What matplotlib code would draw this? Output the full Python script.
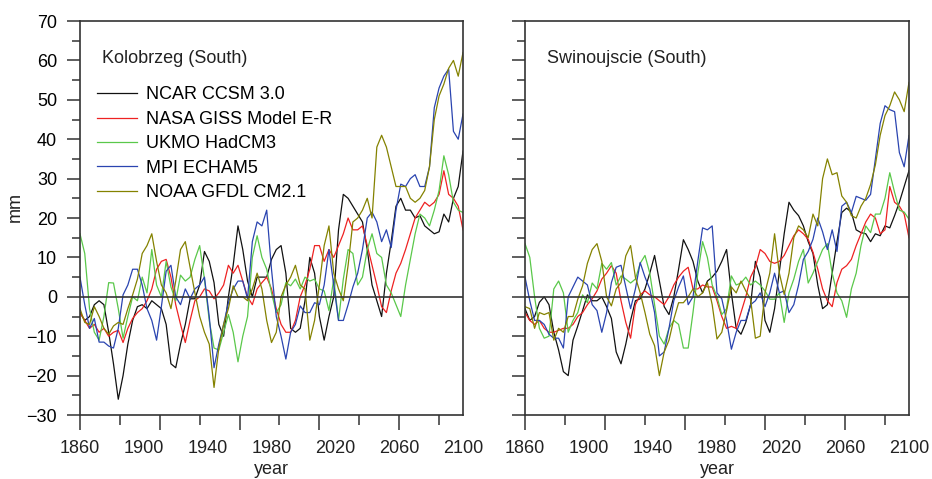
import matplotlib
matplotlib.use('Agg')
import matplotlib.pyplot as plt
from matplotlib.lines import Line2D
import numpy as np

plt.rcParams['font.family'] = ['Liberation Sans', 'DejaVu Sans']
plt.rcParams['font.size'] = 13

# annual-ish sampling, every 3 years
years = np.arange(1860, 2101, 3)

models = ['NCAR CCSM 3.0', 'NASA GISS Model E-R', 'UKMO HadCM3', 'MPI ECHAM5', 'NOAA GFDL CM2.1']
colors = ['#111111', '#ee2222', '#5ac84a', '#2a44b0', '#848200']

# Kolobrzeg (South)
kol_ncar = [-4, -6, -5, -2, -1, -2, -9, -17, -26, -20,
            -12, -6, -2.5, -2, -3, -1, -2, -3, -7, -17,
            -18, -12, -7, -0.5, -0.5, 3, 11.5, 9, 3.6, -7,
            -10, 0, 8, 18, 12, 4, 0, 5, 5, 5,
            9.5, 12, 13, 6, -8, -9, -8, -1, 10, 6,
            -5, -11, -5, 0, 17, 26, 25, 23, 21, 19,
            12, 3, -1, -5, 6, 14, 23, 25, 22, 22,
            20, 20.6, 18, 17, 16, 16.5, 21, 19, 25, 28,
            37]
kol_nasa = [-4, -6, -8, -7, -9, -8, -10, -9, -8.5, -11.6,
            -8, -5.5, -4, -3, -1, 2, 7, 9, 9.5, 5,
            -2, -7, -11.6, -6, -1, 0, 2, 1.5, -0.5, 1,
            3, 8, 6, 8, 4, 0, -2, 2, 3.6, 5,
            2, -3, -7, -9, -9, -6, 0, 3, 7, 13,
            13, 9, 12, 10, 13, 16, 20, 17, 17, 18,
            13, 8, 3, -2.5, -4, 1.5, 6, 8.5, 12, 16,
            20, 22, 24, 23, 24, 26, 32, 26, 25, 23,
            17]
kol_ukmo = [16, 11, -3, -9, -11, -5, 3.6, 3.5, -3, -10.5,
            -5, 0, -1, 5, 1, 12, 3, 0, 9, 2.5,
            -1, 5.5, 4, 5, 9.5, 13, 4.5, -6, -13, -13.5,
            -9, -4.5, -9, -16.5, -10, -5, 10, 15.5, 10, 7,
            1, -4, -2, 3.6, 2.8, 4.5, 2, 5, 4, 4.5,
            2, 1.5, -3.5, 4.5, -6, 4.5, 12, 11, 3, 5,
            12, 16, 11, 10, 3, 1, -2, -5, 3, 9.5,
            16, 21, 20, 18, 22, 27, 35.8, 31, 24, 22,
            21.4]
kol_mpi = [5, -2, -8, -5.5, -11.5, -11.5, -12.5, -13, -8, 0.5,
           3, 7, 7, 3, -3, -6, -11, -2.5, 6.5, 8,
           0, -2, 2, -0.5, 2, 3, 5, -5, -18, -12,
           -7, -1.5, 2, 4, 4, -0.5, 14, 19, 18, 22,
           7, -5, -10, -15.8, -9, -7, -2.3, -4, -4, -1.5,
           -2, 3, 12, 3, -6, -6, -2, 2.5, 6, 12,
           20, 21.5, 19, 14, 17, 12.5, 22, 28.6, 28, 30,
           31, 28, 28, 33, 48, 53, 56, 57.8, 42, 40,
           46.4]
kol_gfdl = [-3, -6.5, -7, -2.5, -5, -8, -9.5, -7.4, -6.5, -7,
            -3, 0.5, 4.5, 11, 13, 16, 9, 3, 1, -3,
            4, 12, 14, 7.5, 1, -5, -9, -12, -23, -13,
            -7, -3, 2.8, 0, 0, -1, 2, 6, 2, -6,
            -11.6, -9, 0, 3, 5, 8, 3, 2, -11, -6,
            3, 13, 18, 6, 2, -1, 8, 19, 20, 22,
            25, 20, 38, 41, 38, 33, 28, 28, 28, 25,
            24, 25, 27, 33, 45, 51, 54, 58, 60, 56,
            62]

# Swinoujscie (South)
swi_ncar = [-3, -6, -5, -1.4, 0, -2, -9, -13.5, -19, -20,
            -11, -7.4, -3.5, 0.5, -1, -1, 0, -2.5, -5.5, -14,
            -17, -12, -6, -1, -0.5, 2, 6, 10.5, 4, -2.5,
            -4.5, 0, 7, 14.5, 12, 9, 4, 1, 4, 5,
            6.5, 9, 12, 1, -8, -9.5, -6.5, -2, 9, 5,
            -6, -9, -3, 6.5, 16, 24, 22, 20.6, 18, 14,
            11, 3, -3, -2, 6, 14, 21.4, 22.5, 21.5, 17,
            16.3, 16, 14, 16, 15.5, 18, 17.5, 20.6, 24, 28,
            32]
swi_nasa = [-4, -6, -7, -6, -8, -9, -9, -8.5, -8, -8,
            -7, -5, -4, -2, -0.5, 1.5, 4.5, 6, 7.9, 6,
            -1, -6.5, -10.5, -2, 0.5, 1.5, 0.5, 0, -1, -2,
            0, 3, 5, 6.5, 7.5, 2, 2, 3, 2.5, 2.5,
            -1, -5, -8, -7.5, -8, -4, 0, 5, 7.5, 12,
            11, 9, 8.5, 9, 10.5, 13, 15.5, 17, 16, 14.6,
            11.3, 7, 2, -1, -2.5, 3.6, 7, 7.9, 9.5, 13,
            16, 19, 21, 20, 16, 17, 28, 24, 23, 21,
            15]
swi_ukmo = [13.5, 10, 0, -8, -10.5, -10, 2, 4, 1, -9,
            -6, -4, 0.5, -1.5, 3.5, 2, 8.5, 7, 8.7, 3,
            5.3, 4.5, 3.5, 4.5, 8.5, 10.5, 6, -2, -10, -12,
            -8, -6, -7, -13, -13, -4, 6, 14, 10, 3,
            0, -4.5, -3, 5.3, 3, 3.5, 5, 3, 4, 3,
            1.5, -0.6, -0.6, 1, -6.5, 1, 4.5, 9, 12, 3.5,
            6, 9, 12, 13.5, 6, 1, -1, -5.2, 2, 6,
            13, 18, 16.3, 21, 21, 25, 31.5, 26.5, 22, 21.5,
            19.7]
swi_mpi = [5, -1, -6, -6, -7, -9.5, -10.5, -10.5, -13, 0,
           2.5, 5, 4, 3, -2, -3.5, -9, -4, 3.6, 7.5,
           8, 2.5, -3, 2, 8.7, 5, 2, -4, -15, -14,
           -8, -1, 2.5, 5.3, -2, 0, 9, 17.5, 17, 18,
           1, -0.5, -6, -13.3, -9, -6, -6, -2, -1, 1,
           -2.5, 1, 6, 1, 1.5, -4, -2, 3, 9.5, 11.5,
           14.6, 20, 16.5, 12, 17, 11.5, 23, 24, 21.4, 25.5,
           25, 24.5, 26, 35, 44, 48.5, 47.5, 47, 36.6, 33,
           40.9]
swi_gfdl = [-2.5, -3, -8, -4, -4.5, -4, -11, -8, -9, -5,
            -5, -0.6, 2.8, 8.5, 12, 13.5, 9, 0, -2.3, 2,
            3.6, 10.4, 13, 5, 1, -4, -9.5, -12.4, -20, -14,
            -11, -5.7, -1.5, -1.5, 0, 2, 0, 1, 3.6, -2,
            -10.7, -9, -3.5, 2.5, 1, 4, 1.5, -0.6, -10.5, -10,
            1, 6, 16, 6, 0.6, 6, 15, 18, 17, 15,
            21, 18, 30, 35, 31, 31.5, 25.6, 24, 20.6, 20,
            23, 25, 28.5, 33.5, 41, 46, 48.5, 52, 50, 47,
            54.4]

year_labels = [1860, 1900, 1940, 1980, 2020, 2060, 2100]
panels = [('Kolobrzeg (South)', [kol_ncar, kol_nasa, kol_ukmo, kol_mpi, kol_gfdl]),
          ('Swinoujscie (South)', [swi_ncar, swi_nasa, swi_ukmo, swi_mpi, swi_gfdl])]

fig = plt.figure(figsize=(9.32, 4.79), dpi=100)
ax_pos = [[0.0858, 0.1336, 0.411, 0.8225], [0.5633, 0.1336, 0.412, 0.8225]]
edge = '#333333'

for p, (title, series) in enumerate(panels):
	ax = fig.add_axes(ax_pos[p])
	for s, c in zip(series, colors):
		ax.plot(years, s, color=c, lw=0.9)
	ax.axhline(0, color=edge, lw=1.2, zorder=5)
	ax.set_xlim(1860, 2100)
	ax.set_ylim(-30, 70)

	for sp in ax.spines.values():
		sp.set_color(edge)
		sp.set_linewidth(1.2)

	ax.set_yticks(np.arange(-30, 71, 10))
	ax.set_yticks(np.arange(-25, 70, 10), minor=True)
	ax.set_xticks([1860, 1910, 1960, 2010, 2060])
	ax.set_xticks([1885, 1935, 1985, 2035, 2085], minor=True)
	ax.set_xticklabels([])
	ax.tick_params(axis='y', which='major', direction='out', length=9.4, width=1.1, color=edge, pad=7)
	ax.tick_params(axis='y', which='minor', direction='out', length=5.8, width=1.1, color=edge)
	ax.tick_params(axis='x', which='major', direction='out', length=10.8, width=1.1, color=edge)
	ax.tick_params(axis='x', which='minor', direction='out', length=7.2, width=1.1, color=edge)
	if p == 1:
		ax.set_yticklabels([])

	# year labels do not sit on the tick marks in the original
	for yl in year_labels:
		ax.text(yl, -0.084, str(yl), transform=ax.get_xaxis_transform(),
				ha='center', va='center', color='#222222')
	ax.text(0.5, -0.138, 'year', transform=ax.transAxes, ha='center', va='center', color='#222222')
	ax.text(0.058, 0.905, title, transform=ax.transAxes, ha='left', va='center', color='#222222')

	if p == 0:
		ax.text(-0.17, 0.528, 'mm', transform=ax.transAxes, rotation=90,
				ha='center', va='center', color='#222222')
		handles = [Line2D([], [], color=c, lw=0.9) for c in colors]
		ax.legend(handles, models, loc='upper left', bbox_to_anchor=(0.045, 0.834),
				  frameon=False, handlelength=2.2, handletextpad=0.5,
				  labelspacing=0.41, borderpad=0, borderaxespad=0)

fig.savefig('out.png', dpi=100)
